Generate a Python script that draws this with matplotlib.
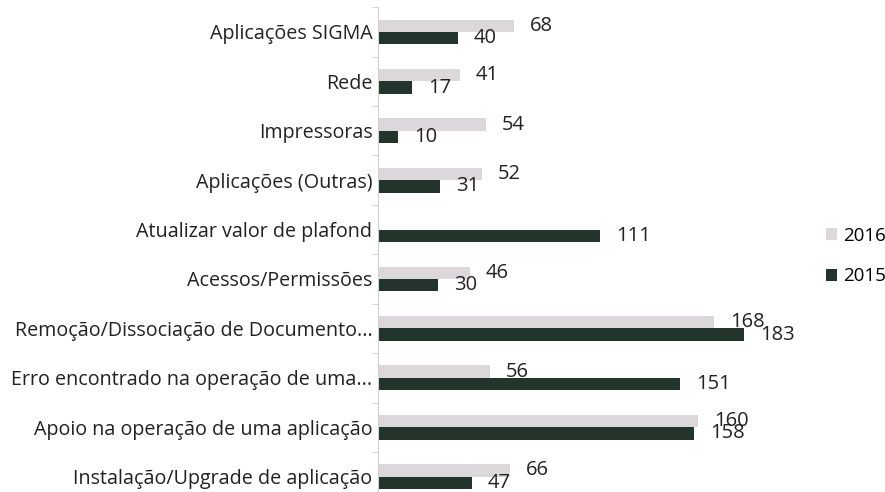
import numpy as np
import matplotlib
matplotlib.use("Agg")
import matplotlib.pyplot as plt

# Données
categories = [
    "Aplicações SIGMA",
    "Rede",
    "Impressoras",
    "Aplicações (Outras)",
    "Atualizar valor de plafond",
    "Acessos/Permissões",
    "Remoção/Dissociação de Documento...",
    "Erro encontrado na operação de uma...",
    "Apoio na operação de uma aplicação",
    "Instalação/Upgrade de aplicação",
]
v2016 = [68, 41, 54, 52, None, 46, 168, 56, 160, 66]
v2015 = [40, 17, 10, 31, 111, 30, 183, 151, 158, 47]

c2016 = "#dcd7da"
c2015 = "#22342b"

plt.rcParams["font.family"] = ["Open Sans", "DejaVu Sans"]

fig = plt.figure(figsize=(8.85, 4.92), dpi=100)
ax = fig.add_axes([378 / 885, -9.3 / 492, 400 / 885, 494 / 492])

y = np.arange(len(categories))
h = 0.25
w16 = [v if v is not None else 0 for v in v2016]
b16 = ax.barh(y - h / 2, w16, height=h, color=c2016, label="2016")
b15 = ax.barh(y + h / 2, v2015, height=h, color=c2015, label="2015")

for i, v in enumerate(v2016):
    if v is not None:
        ax.annotate(str(v), (v, y[i] - h / 2), xytext=(11.5, 0), textcoords="offset points",
                    ha="left", va="center", fontsize=14.5, color="#222222")
for i, v in enumerate(v2015):
    ax.annotate(str(v), (v, y[i] + h / 2), xytext=(11.5, 0), textcoords="offset points",
                ha="left", va="center", fontsize=14.5, color="#222222")

ax.set_xlim(0, 200)
ax.set_ylim(len(categories) - 0.5, -0.5)
ax.set_yticks(y)
ax.set_yticklabels(categories, fontsize=14.2, color="#222222")
ax.tick_params(axis="y", length=0, pad=4)
ax.set_yticks(np.arange(len(categories) + 1) - 0.5, minor=True)
ax.tick_params(axis="y", which="minor", length=4, color="#cccccc")
ax.set_xticks([])
for s in ["top", "right", "bottom"]:
    ax.spines[s].set_visible(False)
ax.spines["left"].set_color("#d0d0d0")

fig.legend(handles=[b16, b15], labels=["2016", "2015"], loc="center left",
           bbox_to_anchor=(826 / 885, 1 - 256 / 492), frameon=False, fontsize=13.5,
           borderpad=0, borderaxespad=0,
           handlelength=0.6, handleheight=0.6, handletextpad=0.3, labelspacing=1.2)

fig.savefig("out.png", dpi=100)
